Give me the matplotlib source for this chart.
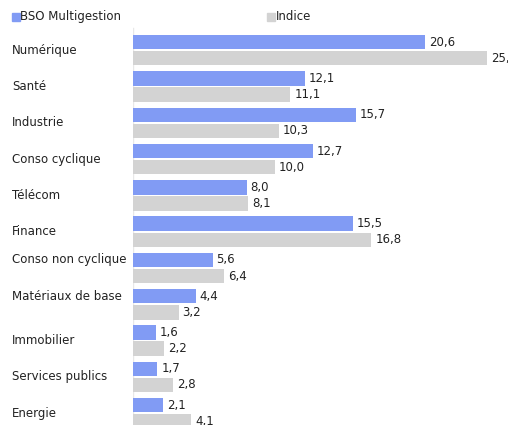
import matplotlib
matplotlib.use("Agg")
import matplotlib.pyplot as plt
from matplotlib.patches import Rectangle

categories = ["Numérique", "Santé", "Industrie", "Conso cyclique", "Télécom", "Finance",
              "Conso non cyclique", "Matériaux de base", "Immobilier", "Services publics", "Energie"]
fund = [20.6, 12.1, 15.7, 12.7, 8.0, 15.5, 5.6, 4.4, 1.6, 1.7, 2.1]
index = [25.0, 11.1, 10.3, 10.0, 8.1, 16.8, 6.4, 3.2, 2.2, 2.8, 4.1]
series_names = ["BSO Multigestion", "Indice"]

BLUE = "#819bf4"
GREY = "#d3d3d3"
TXT = "#222222"
FS = 8.5

W, H = 508, 425
fig = plt.figure(figsize=(W / 100, H / 100), dpi=100)
left_px = 133.3
px_per_unit = 14.16
ax = fig.add_axes([left_px / W, 0, (W - left_px) / W, 1])
ax.set_xlim(0, (W - left_px) / px_per_unit)
pitch = 36.3
y_top = -50.2 / pitch
y_bot = (H - 50.2) / pitch
ax.set_ylim(y_bot, y_top)
ax.axis("off")

h = 0.395
off = 0.222
ys = list(range(len(categories)))
ax.barh([y - off for y in ys], fund, height=h, color=BLUE, left=0)
ax.barh([y + off for y in ys], index, height=h, color=GREY, left=0)
ax.plot([0, 0], [-0.6, y_bot], color="#e8e8e8", lw=1, zorder=0)

dx = 4 / px_per_unit
fmt = lambda v: f"{v:.1f}".replace(".", ",")
for y, v in zip(ys, fund):
    ax.text(v + dx, y - off, fmt(v), va="center", ha="left", fontsize=FS, color=TXT, clip_on=False)
for y, v in zip(ys, index):
    ax.text(v + dx, y + off, fmt(v), va="center", ha="left", fontsize=FS, color=TXT, clip_on=False)

# category labels (in figure, left aligned)
for y, c in zip(ys, categories):
    yy = y - off if len(c) > 16 else y
    ax.text(-(left_px - 12) / px_per_unit, yy, c, va="center", ha="left", fontsize=FS,
            color=TXT, clip_on=False)

# legend
for (x0, name, col) in [(12, series_names[0], BLUE), (267, series_names[1], GREY)]:
    fig.patches.append(Rectangle((x0 / W, 1 - 20.5 / H), 8 / W, 8 / H, transform=fig.transFigure,
                                 color=col, figure=fig))
    fig.text((x0 + 8.5) / W, 1 - 16.5 / H, name, va="center", ha="left", fontsize=FS, color=TXT)

fig.savefig("out.png", dpi=100)
